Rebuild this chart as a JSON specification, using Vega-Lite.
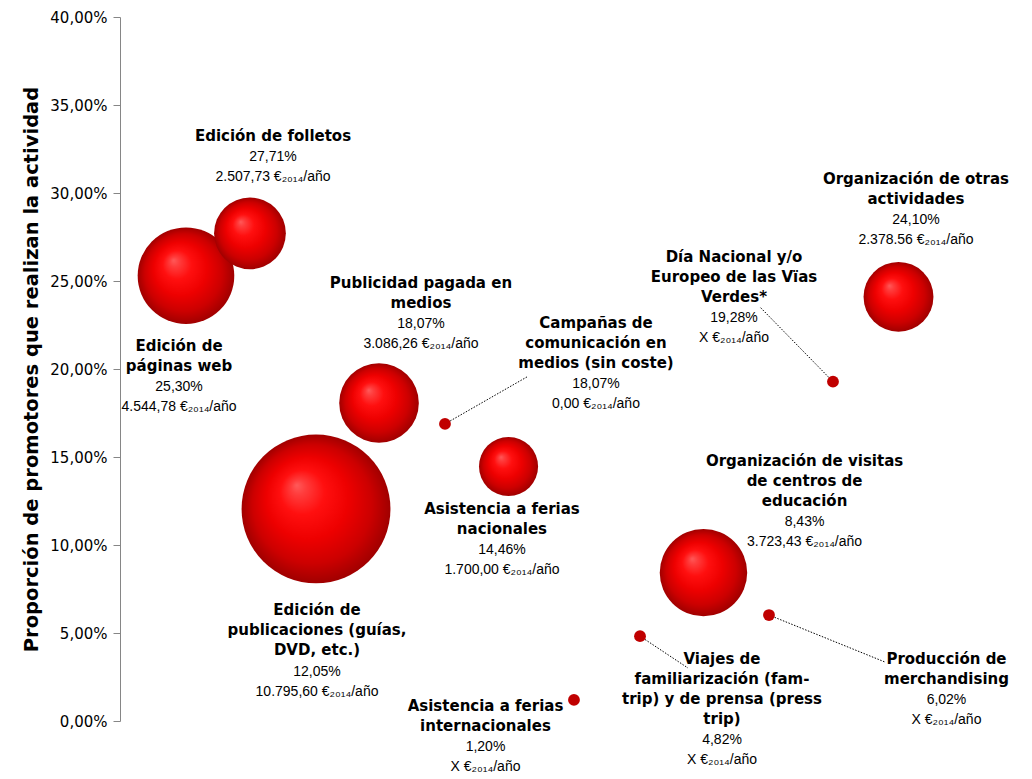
{
  "$schema": "https://vega.github.io/schema/vega-lite/v6.json",
  "width": 900,
  "height": 704,
  "autosize": "none",
  "padding": {"left": 120, "top": 17, "right": 12, "bottom": 58},
  "background": "white",
  "config": {"view": {"stroke": null}},
  "data": {"values": [
    {"actividad": "Edición de páginas web", "titulo": "Edición de\npáginas web", "x": 0.733, "y": 25.30, "coste": 4544.78, "lx": 0.656, "lt": 21.82, "lv": 19.55, "valores": "25,30%\n4.544,78 €₂₀₁₄/año"},
    {"actividad": "Edición de folletos", "titulo": "Edición de folletos", "x": 1.444, "y": 27.71, "coste": 2507.73, "lx": 1.70, "lt": 33.75, "lv": 32.61, "valores": "27,71%\n2.507,73 €₂₀₁₄/año"},
    {"actividad": "Publicidad pagada en medios", "titulo": "Publicidad pagada en\nmedios", "x": 2.878, "y": 18.07, "coste": 3086.26, "lx": 3.344, "lt": 25.37, "lv": 23.10, "valores": "18,07%\n3.086,26 €₂₀₁₄/año"},
    {"actividad": "Campañas de comunicación en medios (sin coste)", "titulo": "Campañas de\ncomunicación en\nmedios (sin coste)", "x": 3.611, "y": 16.88, "coste": 0, "lx": 5.289, "lt": 23.13, "lv": 19.72, "gx": 4.522, "gy": 19.55, "valores": "18,07%\n0,00 €₂₀₁₄/año"},
    {"actividad": "Asistencia a ferias nacionales", "titulo": "Asistencia a ferias\nnacionales", "x": 4.317, "y": 14.46, "coste": 1700.00, "lx": 4.244, "lt": 12.53, "lv": 10.26, "valores": "14,46%\n1.700,00 €₂₀₁₄/año"},
    {"actividad": "Edición de publicaciones (guías, DVD, etc.)", "titulo": "Edición de\npublicaciones (guías,\nDVD, etc.)", "x": 2.178, "y": 12.05, "coste": 10795.60, "lx": 2.189, "lt": 6.79, "lv": 3.38, "valores": "12,05%\n10.795,60 €₂₀₁₄/año"},
    {"actividad": "Organización de otras actividades", "titulo": "Organización de otras\nactividades", "x": 8.65, "y": 24.10, "coste": 2378.56, "lx": 8.844, "lt": 31.30, "lv": 29.03, "valores": "24,10%\n2.378.56 €₂₀₁₄/año"},
    {"actividad": "Día Nacional y/o Europeo de las Vïas Verdes*", "titulo": "Día Nacional y/o\nEuropeo de las Vïas\nVerdes*", "x": 7.922, "y": 19.28, "coste": null, "lx": 6.822, "lt": 26.88, "lv": 23.47, "gx": 7.111, "gy": 23.52, "valores": "19,28%\nX €₂₀₁₄/año"},
    {"actividad": "Organización de visitas de centros de educación", "titulo": "Organización de visitas\nde centros de\neducación", "x": 6.483, "y": 8.43, "coste": 3723.43, "lx": 7.606, "lt": 15.26, "lv": 11.85, "valores": "8,43%\n3.723,43 €₂₀₁₄/año"},
    {"actividad": "Producción de merchandising", "titulo": "Producción de\nmerchandising", "x": 7.211, "y": 6.02, "coste": null, "lx": 9.183, "lt": 4.03, "lv": 1.76, "gx": 8.5, "gy": 3.35, "valores": "6,02%\nX €₂₀₁₄/año"},
    {"actividad": "Viajes de familiarización (fam-trip) y de prensa (press trip)", "titulo": "Viajes de\nfamiliarización (fam-\ntrip) y de prensa (press\ntrip)", "x": 5.778, "y": 4.82, "coste": null, "lx": 6.689, "lt": 4.03, "lv": -0.51, "gx": 6.311, "gy": 3.01, "valores": "4,82%\nX €₂₀₁₄/año"},
    {"actividad": "Asistencia a ferias internacionales", "titulo": "Asistencia a ferias\ninternacionales", "x": 5.044, "y": 1.20, "coste": null, "lx": 4.061, "lt": 1.36, "lv": -0.91, "valores": "1,20%\nX €₂₀₁₄/año"}
  ]},
  "layer": [
    {
      "transform": [{"filter": "isValid(datum.gx)"}],
      "mark": {"type": "rule", "color": "#000000", "strokeWidth": 1, "strokeDash": [1.5, 1.5]},
      "encoding": {
        "x": {"field": "x", "type": "quantitative", "scale": {"domain": [0, 10]}, "axis": null},
        "y": {"field": "y", "type": "quantitative", "scale": {"domain": [0, 40], "nice": false},
          "axis": {
            "title": "Proporción de promotores que realizan la actividad",
            "values": [0, 5, 10, 15, 20, 25, 30, 35, 40],
            "labelExpr": "replace(format(datum.value, '.2f'), '.', ',') + '%'",
            "grid": false,
            "domainColor": "#868686",
            "tickColor": "#868686",
            "tickSize": 7,
            "labelFont": "DejaVu Sans",
            "labelFontSize": 15,
            "labelColor": "#000000",
            "labelPadding": 6,
            "titleFont": "DejaVu Sans",
            "titleFontSize": 19.5,
            "titleFontWeight": "bold",
            "titleColor": "#000000",
            "titlePadding": 8
          }
        },
        "x2": {"field": "gx"},
        "y2": {"field": "gy"}
      }
    },
    {
      "transform": [{"filter": "datum.coste > 0"}],
      "mark": {
        "type": "circle",
        "opacity": 1,
        "strokeWidth": 0,
        "fill": {
          "gradient": "radial",
          "x1": 0.37, "y1": 0.34, "r1": 0,
          "x2": 0.5, "y2": 0.5, "r2": 0.5,
          "stops": [
            {"offset": 0, "color": "#ff5a5a"},
            {"offset": 0.1, "color": "#ff3c3c"},
            {"offset": 0.3, "color": "#ff0f0f"},
            {"offset": 0.55, "color": "#ee0000"},
            {"offset": 0.8, "color": "#cc0000"},
            {"offset": 1, "color": "#a00000"}
          ]
        }
      },
      "encoding": {
        "x": {"field": "x", "type": "quantitative"},
        "y": {"field": "y", "type": "quantitative"},
        "size": {"field": "coste", "type": "quantitative", "scale": {"type": "linear", "domain": [0, 10795.6], "range": [0, 22167], "zero": true}, "legend": null}
      }
    },
    {
      "transform": [{"filter": "!(datum.coste > 0)"}],
      "mark": {"type": "circle", "opacity": 1, "size": 140, "fill": "#c00000", "strokeWidth": 0},
      "encoding": {
        "x": {"field": "x", "type": "quantitative"},
        "y": {"field": "y", "type": "quantitative"}
      }
    },
    {
      "mark": {"type": "text", "font": "DejaVu Sans", "fontWeight": "bold", "fontSize": 15, "baseline": "line-top", "lineHeight": 20, "lineBreak": "\n", "align": "center", "color": "#000000"},
      "encoding": {
        "x": {"field": "lx", "type": "quantitative"},
        "y": {"field": "lt", "type": "quantitative"},
        "text": {"field": "titulo", "type": "nominal"}
      }
    },
    {
      "mark": {"type": "text", "font": "Liberation Sans", "fontSize": 14, "baseline": "line-top", "lineHeight": 20, "lineBreak": "\n", "align": "center", "color": "#000000"},
      "encoding": {
        "x": {"field": "lx", "type": "quantitative"},
        "y": {"field": "lv", "type": "quantitative"},
        "text": {"field": "valores", "type": "nominal"}
      }
    }
  ]
}
